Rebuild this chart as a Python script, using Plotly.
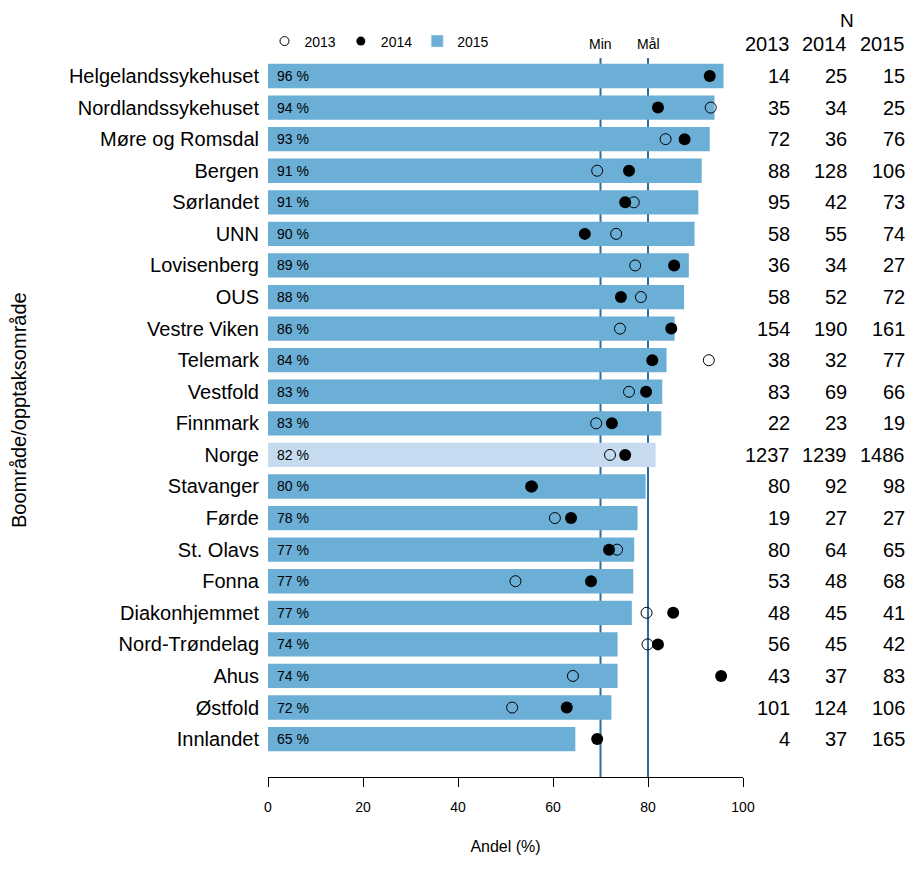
import plotly.graph_objects as go

categories = ["Helgelandssykehuset", "Nordlandssykehuset", "Møre og Romsdal", "Bergen",
              "Sørlandet", "UNN", "Lovisenberg", "OUS", "Vestre Viken", "Telemark",
              "Vestfold", "Finnmark", "Norge", "Stavanger", "Førde", "St. Olavs",
              "Fonna", "Diakonhjemmet", "Nord-Trøndelag", "Ahus", "Østfold", "Innlandet"]

v2015 = [95.9, 94.0, 93.0, 91.3, 90.6, 89.8, 88.6, 87.6, 85.6, 83.9, 83.0,
         82.8, 81.6, 79.5, 77.8, 77.1, 76.9, 76.6, 73.6, 73.6, 72.3, 64.7]
v2014 = [93.0, 82.1, 87.7, 76.0, 75.2, 66.7, 85.5, 74.3, 84.9, 80.9, 79.6,
         72.4, 75.2, 55.4, 63.8, 71.8, 68.0, 85.3, 82.1, 95.4, 62.9, 69.3]
v2013 = [None, 93.2, 83.7, 69.3, 77.0, 73.3, 77.3, 78.5, 74.1, 92.8, 76.0,
         69.1, 72.0, 55.6, 60.4, 73.5, 52.1, 79.7, 79.9, 64.2, 51.4, None]

n2013 = [14, 35, 72, 88, 95, 58, 36, 58, 154, 38, 83, 22, 1237, 80, 19, 80, 53, 48, 56, 43, 101, 4]
n2014 = [25, 34, 36, 128, 42, 55, 34, 52, 190, 32, 69, 23, 1239, 92, 27, 64, 48, 45, 45, 37, 124, 37]
n2015 = [15, 25, 76, 106, 73, 74, 27, 72, 161, 77, 66, 19, 1486, 98, 27, 65, 68, 41, 42, 83, 106, 165]

years = ["2013", "2014", "2015"]
min_level = 70
goal_level = 80

BAR = "#6BAED6"
BAR_NORGE = "#C6DBEF"
LINE = "#2E6E9E"
FONT = "Liberation Sans, Arial, sans-serif"

bar_colors = [BAR_NORGE if c == "Norge" else BAR for c in categories]

fig = go.Figure()

fig.add_trace(go.Bar(
    y=categories, x=v2015, orientation="h", width=0.77,
    marker=dict(color=bar_colors, line=dict(width=0)),
    name=years[2], showlegend=False, hoverinfo="skip"))

fig.add_trace(go.Scatter(
    y=categories, x=v2013, mode="markers", name=years[0], showlegend=False,
    marker=dict(symbol="circle-open", size=11, color="black", line=dict(width=1, color="black"))))
fig.add_trace(go.Scatter(
    y=categories, x=v2014, mode="markers", name=years[1], showlegend=False,
    marker=dict(symbol="circle", size=12, color="black")))

# legend entries (same styles)
fig.add_trace(go.Scatter(x=[None], y=[None], mode="markers", name=years[0],
                         marker=dict(symbol="circle-open", size=9, color="black", line=dict(width=1))))
fig.add_trace(go.Scatter(x=[None], y=[None], mode="markers", name=years[1],
                         marker=dict(symbol="circle", size=9, color="black")))
fig.add_trace(go.Bar(x=[None], y=[None], name=years[2], orientation="h",
                     marker=dict(color=BAR)))

# Min / Mål lines
for lvl in (min_level, goal_level):
    fig.add_shape(type="line", xref="x", yref="paper", x0=lvl, x1=lvl, y0=0, y1=1,
                  line=dict(color=LINE, width=2), layer="below")
fig.add_annotation(x=min_level, xref="x", y=1.0195, yref="paper", text="Min",
                   showarrow=False, font=dict(size=14, color="black"), yanchor="middle")
fig.add_annotation(x=goal_level, xref="x", y=1.0195, yref="paper", text="Mål",
                   showarrow=False, font=dict(size=14, color="black"), yanchor="middle")

# bar value labels
for c, v in zip(categories, v2015):
    fig.add_annotation(x=0, xref="x", y=c, yref="y", text=f"{round(v)} %",
                       xanchor="left", xshift=7, showarrow=False,
                       font=dict(size=14, color="black"))

# N table
col_x = [1.1025, 1.2227, 1.3448]
for xi, yr, ns in zip(col_x, years, (n2013, n2014, n2015)):
    fig.add_annotation(x=xi, xref="paper", y=1.0195, yref="paper", text=yr,
                       xanchor="right", yanchor="middle", showarrow=False,
                       font=dict(size=20, color="black"))
    for c, n in zip(categories, ns):
        fig.add_annotation(x=xi, xref="paper", y=c, yref="y", text=str(n),
                           xanchor="right", yanchor="middle", showarrow=False,
                           font=dict(size=20, color="black"))
fig.add_annotation(x=1.2195, xref="paper", y=1.0515, yref="paper", text="N",
                   xanchor="center", yanchor="middle", showarrow=False,
                   font=dict(size=19, color="black"))

# y title
fig.add_annotation(x=-0.5227, xref="paper", y=0.51, yref="paper",
                   text="Boområde/opptaksområde", textangle=-90, showarrow=False,
                   xanchor="center", yanchor="middle", font=dict(size=20, color="black"))

fig.update_layout(
    width=910, height=867,
    margin=dict(l=260, r=175, t=50, b=98),
    paper_bgcolor="white", plot_bgcolor="white",
    font=dict(family=FONT, color="black"),
    barmode="overlay",
    legend=dict(orientation="h", x=-0.0074, y=1.023, xanchor="left", yanchor="middle",
                font=dict(size=14), bgcolor="rgba(0,0,0,0)", traceorder="normal",
                itemclick=False),
    xaxis=dict(range=[0, 100], tickvals=[0, 20, 40, 60, 80, 100],
               showgrid=False, zeroline=False, showline=True, linecolor="black",
               linewidth=1, ticks="outside", ticklen=9, tickcolor="black",
               tickfont=dict(size=14), ticklabelstandoff=8,
               title=dict(text="Andel (%)", font=dict(size=16), standoff=27)),
    yaxis=dict(categoryorder="array", categoryarray=categories,
               range=[22.2, -0.57], showgrid=False, zeroline=False, showline=False,
               ticks="", tickfont=dict(size=20), ticklabelstandoff=8),
    showlegend=True,
)

fig.write_html("out.html")
